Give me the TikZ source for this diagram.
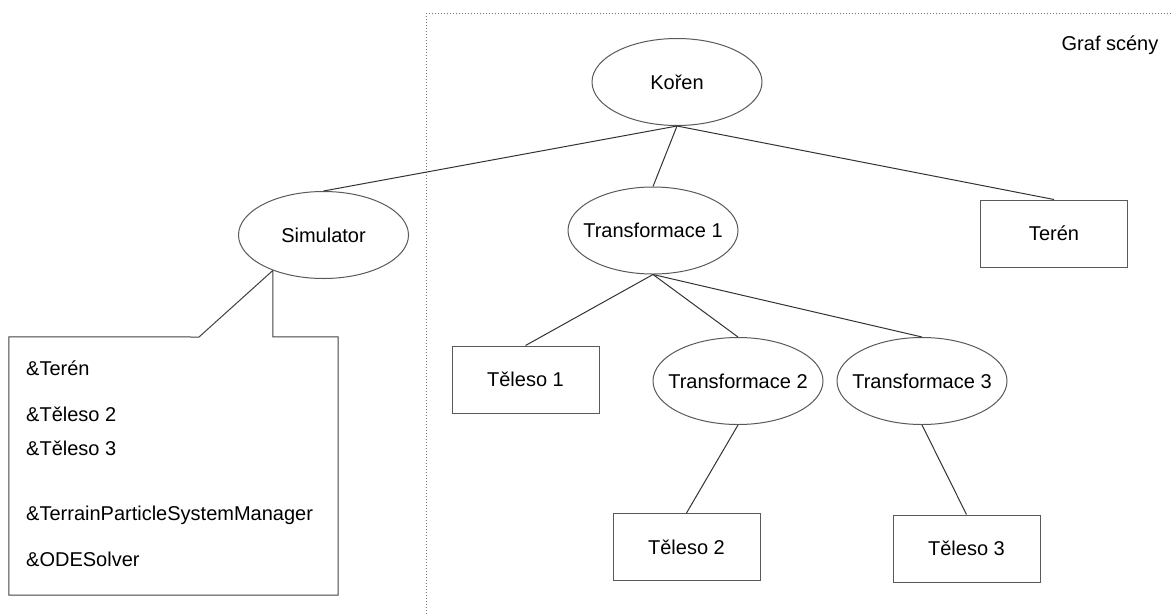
\documentclass[tikz,border=0pt]{standalone}
\usepackage{fontspec}
\setmainfont{Liberation Sans}
\usetikzlibrary{shapes.geometric}
\newcommand{\nazev}[1]{\makebox[0pt]{#1}}

\begin{document}
\begin{tikzpicture}[x=1pt,y=-1pt,font=\fontsize{20}{24}\selectfont,
      every node/.style={inner sep=0pt},
      every edge/.style={draw=black!80,line width=1pt},
      trans/.style={ellipse,draw=black!65,line width=1pt,minimum width=170pt,minimum height=87pt},
      body/.style={rectangle,draw=black!65,line width=1pt,minimum width=147pt,minimum height=67pt},
      ref/.style={anchor=base west}]
      \useasboundingbox (0,0) rectangle (1172,614);
      % scene graph frame
      \draw[black!55,line width=1pt,dash pattern=on 1pt off 2pt] (426,13) rectangle (1190,640);
      \node[anchor=base] (graf) at (1110,50) {Graf scény};
      % tree
      \node[trans] (koren)  at (677,82)      {\nazev{Kořen}};
      \node[trans] (sim)    at (323.5,235)   {\nazev{Simulator}};
      \node[trans] (trans1) at (653,230.5)   {\nazev{Transformace 1}};
      \node[body]  (teren)  at (1054,233.5)  {Terén};
      \node[body]  (tel1)   at (525.5,379.5) {Těleso 1};
      \node[trans] (trans2) at (738,381)     {\nazev{Transformace 2}};
      \node[trans] (trans3) at (922,381)     {\nazev{Transformace 3}};
      \node[body]  (tel2)   at (686.5,547)   {Těleso 2};
      \node[body]  (tel3)   at (966.5,548.5) {Těleso 3};
      \path (koren.south) edge (sim.north)
                          edge (trans1.north)
                          edge (teren.north)
            (trans1.south) edge (tel1.north)
                           edge (trans2.north)
                           edge (trans3.north)
            (trans2.south) edge (tel2.north)
            (trans3.south) edge (tel3.north);
      % callout of the simulator
      \node[minimum width=329pt,minimum height=258pt] (simbox) at (173.5,466) {};
      \coordinate (tip) at (sim.215);
      \coordinate (gap) at (199,337);
      \draw[black!75,line width=1pt] (tip) -- (tip |- simbox.north) -- (simbox.north east)
        -- (simbox.south east) -- (simbox.south west) -- (simbox.north west) -- (gap) -- (tip);
      \foreach \y/\txt [count=\i] in {375/\&Terén, 421/\&Těleso 2, 455/\&Těleso 3,
          520/\&TerrainParticleSystemManager, 566/\&ODESolver}
        \node[ref] (ref\i) at (26,\y) {\txt};
\end{tikzpicture}
\end{document}
